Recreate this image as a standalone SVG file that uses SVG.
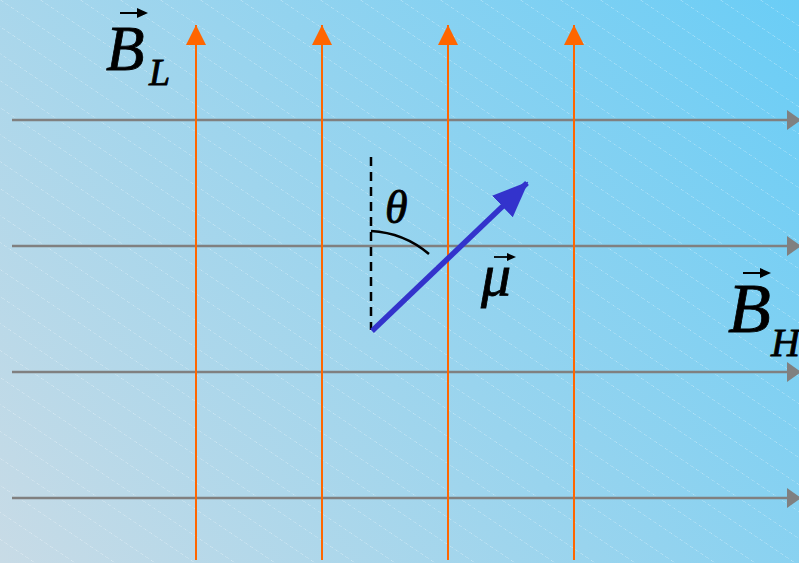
<svg xmlns="http://www.w3.org/2000/svg" width="799" height="563" viewBox="0 0 799 563">
<defs>
<linearGradient id="bg" x1="0" y1="563" x2="799" y2="0" gradientUnits="userSpaceOnUse">
<stop offset="0" stop-color="#c8dbe6"/>
<stop offset="1" stop-color="#6acdf6"/>
</linearGradient>
<pattern id="hatch" width="40" height="563" patternUnits="userSpaceOnUse" patternTransform="skewX(56)">
<line x1="0" y1="0" x2="0" y2="563" stroke="#ffffff" stroke-opacity="0.75" stroke-width="1" stroke-dasharray="2,1.5"/>
</pattern>
<marker id="ga" viewBox="0 0 14 20" refX="14" refY="10" markerWidth="14" markerHeight="20" markerUnits="userSpaceOnUse" orient="auto">
<path d="M0,0 L14,10 L0,20 z" fill="#808080"/>
</marker>
<marker id="oa" viewBox="0 0 20 20" refX="20" refY="10" markerWidth="20" markerHeight="20" markerUnits="userSpaceOnUse" orient="auto">
<path d="M0,0 L20,10 L0,20 z" fill="#ff6600"/>
</marker>
<marker id="ba" viewBox="0 0 36 30" refX="34" refY="15" markerWidth="36" markerHeight="30" markerUnits="userSpaceOnUse" orient="auto">
<path d="M0,0 L36,15 L0,30 z" fill="#3333cc"/>
</marker>
</defs>
<style>
.h{stroke:#808080;stroke-width:2.5;fill:none}
.v{stroke:#ff6600;stroke-width:2;fill:none}
.t{font-family:"Liberation Serif","Times New Roman",serif;font-style:italic;fill:#000;stroke:#000;stroke-width:0.8}
</style>
<rect width="799" height="563" fill="url(#bg)"/>
<rect width="799" height="563" fill="url(#hatch)"/>
<g id="connectors">
<line class="h" x1="12" y1="120" x2="801" y2="120" marker-end="url(#ga)"/>
<line class="h" x1="12" y1="246" x2="801" y2="246" marker-end="url(#ga)"/>
<line class="h" x1="12" y1="372" x2="801" y2="372" marker-end="url(#ga)"/>
<line class="h" x1="12" y1="498" x2="801" y2="498" marker-end="url(#ga)"/>
<line class="v" x1="196" y1="560" x2="196" y2="25" marker-end="url(#oa)"/>
<line class="v" x1="322" y1="560" x2="322" y2="25" marker-end="url(#oa)"/>
<line class="v" x1="448" y1="560" x2="448" y2="25" marker-end="url(#oa)"/>
<line class="v" x1="574" y1="560" x2="574" y2="25" marker-end="url(#oa)"/>
<line x1="371" y1="157" x2="371" y2="330" stroke="#000" stroke-width="2.5" stroke-dasharray="9,6"/>
<path d="M371,231 A98,98 0 0 1 429,254" stroke="#000" stroke-width="2.5" fill="none"/>
<line x1="372" y1="331" x2="527" y2="183" stroke="#3333cc" stroke-width="5.5" marker-end="url(#ba)"/>
</g>
<g id="labelBL">
<text class="t" x="106" y="70" font-size="63">B</text>
<text class="t" x="149" y="85" font-size="38">L</text>
<path d="M120,13 L143,13" stroke="#000" stroke-width="2"/>
<path d="M137,8 L148,13 L137,18 z" fill="#000"/>
</g>
<g id="labelBH">
<text class="t" x="728" y="332" font-size="70">B</text>
<text class="t" x="771" y="356" font-size="40">H</text>
<path d="M743,273 L766,273" stroke="#000" stroke-width="2"/>
<path d="M760,268 L771,273 L760,278 z" fill="#000"/>
</g>
<g id="labelTheta">
<text class="t" x="385" y="223" font-size="46">θ</text>
</g>
<g id="labelMu">
<text class="t" x="481" y="295" font-size="60">μ</text>
<path d="M494,257 L511,257" stroke="#000" stroke-width="1.8"/>
<path d="M507,253 L516,257 L507,261 z" fill="#000"/>
</g>
</svg>
